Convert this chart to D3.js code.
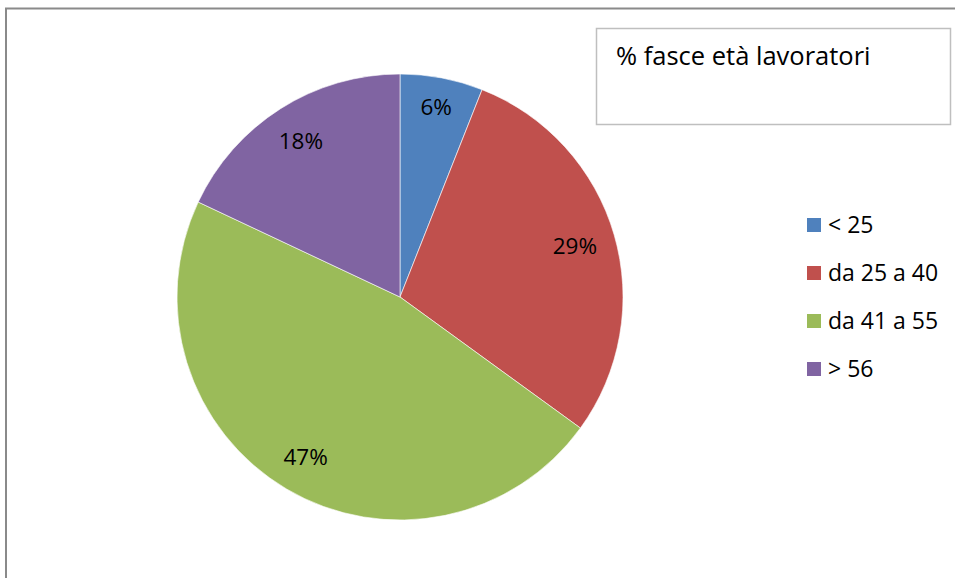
<!DOCTYPE html>
<html>
<head>
<meta charset="utf-8">
<script src="https://cdn.jsdelivr.net/npm/d3@7"></script>
<style>
  html, body { margin: 0; padding: 0; background: #ffffff; }
  svg { display: block; }
  text { font-family: "Open Sans", Lato, sans-serif; fill: #000; }
</style>
</head>
<body>
<svg id="chart" width="955" height="578"></svg>
<script>
// Age bands of the workforce (share in %)
const categories = ["< 25", "da 25 a 40", "da 41 a 55", "> 56"];
const shares = [6, 29, 47, 18];
const sliceColors = ["#4F81BD", "#C0504D", "#9BBB59", "#8064A2"];
const chartTitle = "% fasce età lavoratori";

const svg = d3.select("#chart");

// outer chart frame (continues past the right and bottom edges)
svg.append("rect")
  .attr("x", 6).attr("y", 8.5)
  .attr("width", 1000).attr("height", 700)
  .attr("fill", "none")
  .attr("stroke", "#8a8a8a")
  .attr("stroke-width", 2);

// pie
const cx = 400, cy = 297, radius = 223;
const data = categories.map((c, i) => ({ category: c, value: shares[i] }));
const pie = d3.pie().value(d => d.value).sort(null);
const arcs = pie(data);
const arc = d3.arc().innerRadius(0).outerRadius(radius);
const color = d3.scaleOrdinal().domain(categories).range(sliceColors);
const total = d3.sum(shares);
const pct = d3.format(".0%");

const g = svg.append("g").attr("transform", `translate(${cx},${cy})`);
g.selectAll("path.slice")
  .data(arcs)
  .join("path")
  .attr("class", "slice")
  .attr("d", arc)
  .attr("fill", d => color(d.data.category))
  .attr("stroke", "#ffffff")
  .attr("stroke-width", 0.6);

// value labels placed "inside end": the label box's outer corner sits on a
// circle slightly inside the rim, along the slice's mid angle
const insideEnd = 209;
const labels = g.selectAll("text.value")
  .data(arcs)
  .join("text")
  .attr("class", "value")
  .attr("text-anchor", "middle")
  .attr("dy", "0.35em")
  .style("font-size", "22.5px")
  .text(d => pct(d.data.value / total));
labels.each(function (d) {
  const a = (d.startAngle + d.endAngle) / 2;
  const ux = Math.sin(a), uy = -Math.cos(a);
  const hw = this.getComputedTextLength() / 2 + 2;
  const hh = 13;
  const reach = Math.abs(ux) * hw + Math.abs(uy) * hh;
  const r = insideEnd - reach;
  d3.select(this).attr("transform", `translate(${ux * r},${uy * r})`);
});

// title box
svg.append("rect")
  .attr("x", 596.5).attr("y", 28.5)
  .attr("width", 354).attr("height", 96)
  .attr("fill", "#ffffff")
  .attr("stroke", "#bfbfbf")
  .attr("stroke-width", 1.5);
svg.append("text")
  .attr("x", 616).attr("y", 65)
  .style("font-size", "25.5px")
  .text(chartTitle);

// legend
const legend = svg.append("g").attr("transform", "translate(807,218)");
const row = legend.selectAll("g.item")
  .data(categories)
  .join("g")
  .attr("class", "item")
  .attr("transform", (d, i) => `translate(0,${i * 48})`);
row.append("rect")
  .attr("width", 14).attr("height", 14)
  .attr("fill", d => color(d));
row.append("text")
  .attr("x", 21).attr("y", 14.5)
  .style("font-size", "23px")
  .text(d => d);
</script>
</body>
</html>
